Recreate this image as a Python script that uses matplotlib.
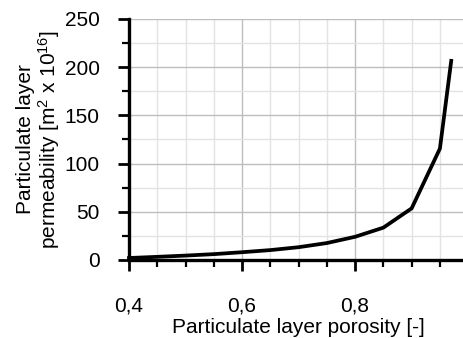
import matplotlib
matplotlib.use("Agg")
import matplotlib.pyplot as plt
from matplotlib.ticker import MultipleLocator, FuncFormatter

# porosity vs permeability of the particulate layer
porosity = [0.40, 0.45, 0.50, 0.55, 0.60, 0.65, 0.70, 0.75, 0.80, 0.85, 0.90, 0.95, 0.97]
permeability = [2.0, 3.2, 4.5, 6.0, 8.0, 10.2, 13.2, 17.5, 24.0, 33.5, 53.5, 115.5, 206.5]

x_ticks = [0.4, 0.6, 0.8, 1.0]

plt.rcParams["font.family"] = ["Liberation Sans", "DejaVu Sans"]
plt.rcParams["mathtext.fontset"] = "custom"
plt.rcParams["mathtext.rm"] = "Liberation Sans"
plt.rcParams["mathtext.it"] = "Liberation Sans:italic"
plt.rcParams["mathtext.default"] = "rm"

fig = plt.figure(figsize=(4.64, 3.38), dpi=100)
ax = fig.add_axes([0.278, 0.231, 0.731, 0.713])

ax.plot(porosity, permeability, color="black", lw=2.7, solid_joinstyle="miter",
        clip_on=False, zorder=3)

ax.set_xlim(0.4, 1.0)
ax.set_ylim(0, 250)
ax.set_xticks(x_ticks)
ax.xaxis.set_minor_locator(MultipleLocator(0.05))
ax.yaxis.set_major_locator(MultipleLocator(50))
ax.yaxis.set_minor_locator(MultipleLocator(25))


def comma(v, pos):
    if abs(v - round(v)) < 1e-9:
        return f"{int(round(v))}"
    return f"{v:.1f}".replace(".", ",")


ax.xaxis.set_major_formatter(FuncFormatter(comma))

ax.grid(which="major", color="#bdbdbd", lw=1.0)
ax.grid(which="minor", color="#e3e3e3", lw=1.0)
ax.set_axisbelow(True)

for s in ("top", "right"):
    ax.spines[s].set_visible(False)
for s in ("left", "bottom"):
    ax.spines[s].set_linewidth(2.4)

ax.tick_params(axis="y", which="major", direction="out", length=8, width=2.0,
               labelsize=15, pad=13)
ax.tick_params(axis="y", which="minor", direction="out", length=5, width=1.6)
ax.tick_params(axis="x", which="major", direction="out", length=8, width=2.0,
               labelsize=15, pad=18)
ax.tick_params(axis="x", which="minor", direction="out", length=5, width=1.6)

ax.set_xlabel("Particulate layer porosity [-]", fontsize=15, labelpad=2)
ax.set_ylabel("Particulate layer\npermeability [m$^{2}$ x 10$^{16}$]",
              fontsize=15, labelpad=2, linespacing=1.05)

fig.savefig("out.png", dpi=100)
